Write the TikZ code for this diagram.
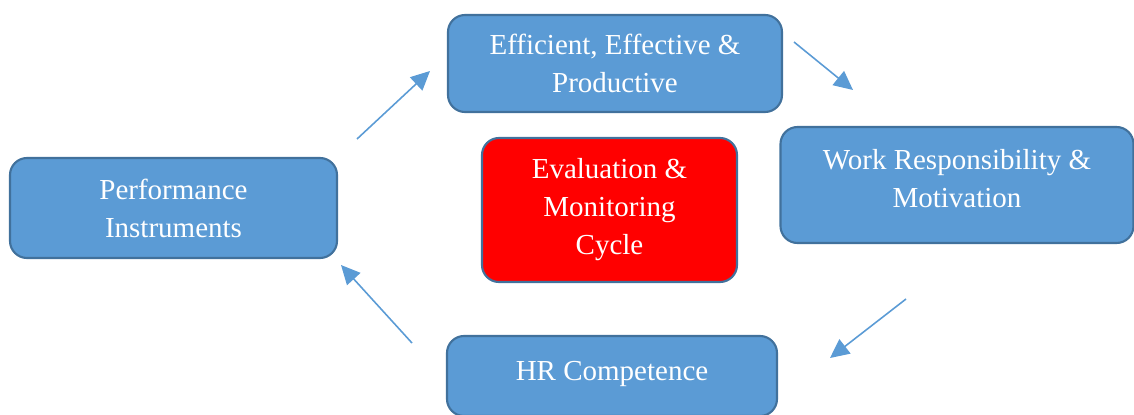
\documentclass[tikz,border=0pt]{standalone}
\usepackage{fontspec}
\setmainfont{Liberation Serif}
\usetikzlibrary{arrows.meta}
\definecolor{boxblue}{HTML}{5B9BD5}
\definecolor{edgeblue}{HTML}{41719C}
\definecolor{cyclered}{HTML}{FF0000}
\tikzset{
  stage/.style={draw=edgeblue,line width=1.2pt,fill=boxblue,rounded corners=0.34cm,
    text=white,align=center,font=\fontsize{16.5}{21.6}\selectfont,inner sep=0pt},
  hub/.style={stage,fill=cyclered},
  flow/.style={-{Triangle[length=0.38cm,width=0.36cm]},draw=boxblue,line width=0.9pt}
}
\begin{document}
\begin{tikzpicture}
\useasboundingbox (0,0) rectangle (22.68,-8.28);
% the four stages and the cycle in the middle
\node[stage,minimum width=6.68cm,minimum height=1.94cm] (eff) at (12.3,-1.27) {Efficient, Effective \&\\Productive};
\node[stage,minimum width=7.06cm,minimum height=2.32cm,text depth=0.25cm] (work) at (19.14,-3.7) {Work Responsibility \&\\Motivation};
\node[stage,minimum width=6.6cm,minimum height=1.6cm] (hr) at (12.24,-7.52) {\raisebox{0.22cm}{HR Competence}};
\node[stage,minimum width=6.54cm,minimum height=2cm] (perf) at (3.47,-4.16) {Performance\\Instruments};
\node[hub,minimum width=5.1cm,minimum height=2.88cm] (cycle) at (12.19,-4.2) {Evaluation \&\\Monitoring\\Cycle};
% arrow ends
\coordinate (a1) at (7.14,-2.78);
\coordinate (b1) at (8.6,-1.42);
\coordinate (a2) at (15.88,-0.84);
\coordinate (b2) at (17.06,-1.8);
\coordinate (a3) at (18.12,-5.98);
\coordinate (b3) at (16.6,-7.16);
\coordinate (a4) at (8.24,-6.86);
\coordinate (b4) at (6.82,-5.3);
% the arrows round the cycle
\foreach \s/\t in {a1/b1,a2/b2,a3/b3,a4/b4}
  \draw[flow] (\s) -- (\t);
\end{tikzpicture}
\end{document}
